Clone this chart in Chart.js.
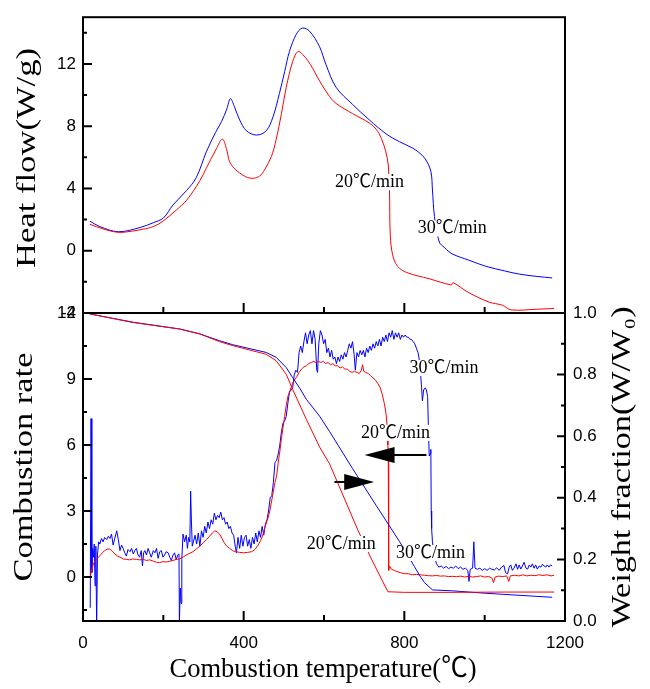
<!DOCTYPE html>
<html>
<head>
<meta charset="utf-8">
<script src="https://cdn.jsdelivr.net/npm/chart.js@4.4.1/dist/chart.umd.min.js"></script>
<style>
html, body { margin: 0; padding: 0; background: #fff; }
#wrap { position: relative; width: 650px; height: 689px; }
#wrap canvas { position: absolute; left: 0; top: 0; }
</style>
</head>
<body>
<div id="wrap">
<canvas id="rateChart" width="650" height="689"></canvas>
<canvas id="heatChart" width="650" height="689"></canvas>
</div>
<script>
/* AXIS TICKS */
const TEMP_TICKS = [0, 400, 800, 1200];
const TEMP_MINOR = [200, 600, 1000];
const HEAT_TICKS = [-4, 0, 4, 8, 12];
const HEAT_MINOR = [-2, 2, 6, 10, 14];
const RATE_TICKS = [0, 3, 6, 9, 12];
const RATE_MINOR = [-1.5, 1.5, 4.5, 7.5, 10.5];
const WEIGHT_TICKS = [0, 0.2, 0.4, 0.6, 0.8, 1.0];
const WEIGHT_MINOR = [0.1, 0.3, 0.5, 0.7, 0.9];

/* HEAT FLOW (W/g) */
const heatT20 = [17, 50, 88, 120, 149, 175, 199, 233, 258, 291, 307, 332, 347, 357, 365, 378, 390, 405, 423, 440, 452, 469, 481, 494, 506, 522, 535, 547, 560, 572, 589, 614, 630, 671, 713, 730, 743, 754, 760, 763, 765, 771, 783, 806, 862, 917, 921, 961, 1011, 1044, 1066, 1128, 1173];
const heatV20 = [1.70, 1.4, 1.18, 1.25, 1.38, 1.55, 1.9, 2.63, 3.24, 4.5, 5.3, 6.55, 7.17, 6.56, 5.72, 5.25, 5.0, 4.75, 4.65, 4.8, 5.2, 6.05, 7.15, 8.8, 10.5, 12.15, 12.8, 12.6, 12.2, 11.7, 10.9, 9.9, 9.46, 8.81, 8.2, 7.8, 7.2, 6.35, 5.5, 3.9, 1.0, -0.27, -1.0, -1.4, -1.8, -2.2, -2.05, -2.7, -3.3, -3.5, -3.8, -3.76, -3.71];

const heatT30 = [17, 42, 88, 142, 175, 200, 224, 258, 282, 307, 330, 345, 358, 367, 377, 390, 407, 432, 456, 473, 489, 502, 514, 531, 546, 564, 589, 605, 630, 671, 713, 755, 788, 820, 837, 852, 866, 870, 875, 887, 900, 919, 960, 1003, 1050, 1086, 1130, 1168];
const heatV30 = [1.9, 1.55, 1.22, 1.49, 1.8, 2.1, 2.94, 3.87, 4.7, 6.35, 7.6, 8.3, 9.1, 9.77, 9.25, 8.4, 7.7, 7.43, 7.7, 8.6, 10.1, 11.5, 12.8, 13.9, 14.3, 14.1, 13.1, 11.95, 10.5, 9.4, 8.4, 7.5, 7.0, 6.6, 6.3, 5.9, 5.1, 3.9, 2.2, 0.56, 0.2, -0.2, -0.6, -1.0, -1.3, -1.5, -1.65, -1.75];

/* COMBUSTION RATE */
const rateT20 = [18, 22, 26, 30, 36, 42, 48, 54, 60, 66, 72, 79, 86, 92, 100, 108, 116, 124, 133, 141, 150, 158, 166, 175, 183, 191, 199, 208, 216, 224, 232, 241, 249, 257, 266, 274, 282, 291, 299, 307, 315, 322, 328, 334, 340, 346, 352, 358, 365, 372, 380, 390, 400, 410, 420, 428, 436, 442, 447, 452, 457, 461, 465, 470, 474, 478, 482, 486, 490, 494, 498, 502, 506, 510, 514, 518, 522, 526, 532, 538, 544, 550, 556, 562, 568, 574, 580, 586, 592, 598, 604, 610, 616, 622, 628, 634, 640, 646, 652, 658, 664, 670, 676, 682, 688, 693, 696, 699, 704, 710, 716, 722, 728, 734, 740, 745, 750, 754, 757, 759, 760, 761, 763, 768, 775, 782, 790, 800, 810, 820, 830, 840, 850, 860, 870, 880, 890, 900, 910, 920, 930, 940, 950, 960, 970, 980, 990, 1000, 1010, 1018, 1022, 1026, 1035, 1045, 1055, 1060, 1064, 1075, 1085, 1095, 1105, 1115, 1125, 1135, 1145, 1155, 1165, 1173];
const rateV20 = [0.0, 0.35, 0.6, 0.75, 0.85, 0.97, 1.1, 1.2, 1.27, 1.27, 1.2, 1.05, 0.95, 0.9, 0.82, 0.8, 0.78, 0.82, 0.8, 0.78, 0.8, 0.75, 0.78, 0.72, 0.67, 0.65, 0.7, 0.68, 0.72, 0.75, 0.8, 0.82, 0.9, 1.0, 1.08, 1.15, 1.27, 1.4, 1.55, 1.7, 1.85, 2.0, 2.1, 2.05, 1.95, 1.75, 1.55, 1.4, 1.3, 1.2, 1.15, 1.12, 1.1, 1.12, 1.15, 1.25, 1.45, 1.65, 1.86, 2.2, 2.5, 2.7, 3.0, 3.5, 3.9, 4.3, 4.6, 5.2, 5.7, 6.3, 6.8, 7.3, 7.8, 8.2, 8.4, 8.6, 8.8, 8.95, 9.1, 9.3, 9.45, 9.55, 9.6, 9.7, 9.75, 9.8, 9.75, 9.8, 9.75, 9.8, 9.7, 9.75, 9.65, 9.7, 9.6, 9.6, 9.5, 9.55, 9.45, 9.45, 9.35, 9.3, 9.35, 9.3, 9.25, 9.4, 9.65, 9.35, 9.3, 9.25, 9.15, 9.05, 8.95, 8.8, 8.6, 8.3, 7.9, 7.5, 6.9, 6.0, 5.5, 0.3, 0.5, 0.35, 0.3, 0.25, 0.2, 0.15, 0.15, 0.1, 0.12, 0.1, 0.08, 0.06, 0.05, 0.07, 0.04, 0.05, 0.02, 0.03, 0.01, 0.04, 0.0, 0.03, 0.0, 0.02, 0.05, 0.0, 0.02, -0.05, -0.25, 0.0, 0.04, 0.02, 0.05, -0.2, 0.05, 0.08, 0.05, 0.1, 0.05, 0.08, 0.06, 0.1, 0.07, 0.1, 0.05, 0.08];

const rateT30 = [18, 20, 22, 24, 26, 28, 30, 32, 34, 36, 39, 42, 46, 50, 54, 59, 63, 67, 71, 75, 79, 84, 88, 92, 96, 100, 104, 108, 112, 117, 121, 125, 129, 133, 137, 141, 145, 148, 151, 154, 158, 162, 166, 170, 175, 179, 183, 187, 191, 195, 199, 203, 207, 212, 216, 220, 224, 228, 232, 236, 239, 240, 242, 244, 246, 249, 253, 257, 260, 263, 266, 268, 270, 272, 275, 279, 283, 287, 291, 295, 299, 303, 307, 311, 315, 319, 323, 327, 331, 335, 339, 343, 347, 351, 355, 359, 363, 367, 371, 375, 379, 382, 386, 390, 394, 398, 402, 406, 410, 414, 418, 422, 426, 430, 434, 438, 442, 446, 450, 454, 458, 462, 466, 470, 474, 478, 482, 486, 490, 494, 498, 502, 506, 510, 514, 518, 522, 526, 530, 534, 538, 542, 546, 550, 554, 558, 562, 566, 570, 574, 578, 582, 584, 587, 591, 595, 599, 603, 607, 611, 615, 619, 623, 627, 631, 635, 639, 643, 647, 651, 655, 659, 663, 667, 671, 675, 678, 682, 686, 690, 694, 698, 702, 706, 710, 714, 718, 722, 726, 730, 734, 738, 742, 746, 750, 754, 758, 762, 766, 770, 774, 778, 782, 786, 790, 794, 798, 802, 806, 810, 814, 818, 822, 826, 830, 834, 838, 841, 843, 845, 848, 852, 855, 858, 860, 862, 864, 866, 867, 868, 870, 874, 880, 886, 892, 898, 904, 910, 916, 922, 928, 934, 940, 946, 952, 958, 961, 964, 970, 973, 976, 982, 988, 994, 1000, 1006, 1012, 1018, 1024, 1030, 1036, 1042, 1048, 1052, 1057, 1061, 1065, 1069, 1073, 1078, 1082, 1086, 1090, 1094, 1098, 1103, 1107, 1111, 1115, 1119, 1123, 1127, 1131, 1136, 1140, 1144, 1148, 1152, 1156, 1160, 1164, 1168];
const rateV30 = [-1.4, 7.2, 0.2, 1.3, 0.9, 1.5, -0.4, 1.4, -2.3, 1.0, 1.6, 1.5, 1.75, 1.6, 1.8, 1.7, 1.85, 1.75, 1.95, 1.45, 1.75, 2.1, 1.7, 1.2, 1.45, 1.3, 1.1, 0.95, 1.25, 1.15, 1.3, 1.05, 1.2, 1.3, 1.0, 0.9, 1.2, 0.5, 1.1, 1.2, 1.0, 1.3, 1.1, 0.9, 1.2, 1.1, 1.3, 0.85, 1.15, 1.2, 0.9, 1.0, 1.15, 1.1, 0.9, 0.75, 1.0, 1.1, 0.8, 1.0, 1.05, -2.2, -0.5, -1.2, 0.8, 1.95, 1.6, 1.9, 1.3, 1.8, 1.6, 3.9, 2.5, 1.4, 1.6, 1.9, 1.5, 2.0, 1.4, 2.1, 1.8, 2.3, 2.0, 2.5, 2.2, 2.6, 2.4, 2.9, 2.6, 2.8, 2.7, 2.95, 2.6, 2.7, 2.4, 2.5, 2.2, 2.3, 2.0, 1.9, 1.4, 1.1, 1.8, 1.3, 1.9, 1.4, 1.8, 1.9, 1.4, 1.7, 1.3, 1.8, 1.5, 2.0, 1.6, 2.1, 1.8, 2.3, 1.9, 2.4, 2.6, 3.0, 3.6, 3.7, 4.3, 5.2, 5.3, 5.6, 6.0, 6.6, 7.0, 7.1, 7.3, 7.9, 8.4, 8.5, 8.6, 9.2, 9.4, 9.3, 10.2, 10.5, 10.2, 10.7, 11.1, 10.6, 11.0, 11.2, 10.6, 11.2, 10.8, 9.4, 9.3, 10.6, 11.2, 11.0, 10.6, 10.8, 10.2, 10.4, 10.0, 10.3, 9.9, 10.0, 9.7, 10.0, 9.8, 10.1, 9.9, 10.2, 10.0, 10.3, 10.6, 10.4, 10.7, 10.1, 9.4, 10.2, 10.0, 10.3, 10.1, 10.3, 10.0, 10.4, 10.2, 10.5, 10.3, 10.6, 10.4, 10.7, 10.5, 10.8, 10.5, 10.9, 10.7, 11.0, 10.7, 11.1, 10.9, 11.2, 10.8, 11.1, 10.9, 11.1, 10.8, 11.0, 10.9, 11.0, 10.9, 10.9, 10.8, 10.8, 10.7, 10.6, 10.4, 10.2, 9.8, 9.1, 8.6, 8.0, 8.5, 8.6, 8.5, 8.2, 6.7, 5.5, 5.6, 5.8, 3.0, 2.2, 1.6, 1.0, 0.6, 0.45, 0.5, 0.4, 0.48, 0.38, 0.45, 0.4, 0.5, 0.38, 0.45, 0.35, 0.4, 0.3, -0.2, 0.35, 0.4, 1.6, 0.4, 0.35, 0.4, 0.3, 0.38, 0.3, 0.4, 0.35, 0.32, 0.42, 0.3, 0.45, 0.52, 0.2, 0.14, 0.45, 0.55, 0.3, 0.4, 0.6, 0.35, 0.55, 0.36, 0.5, 0.67, 0.4, 0.36, 0.55, 0.45, 0.6, 0.4, 0.55, 0.36, 0.5, 0.45, 0.58, 0.5, 0.45, 0.55, 0.45, 0.55, 0.5];

/* WEIGHT FRACTION (W/Wo) */
const weightT20 = [17, 125, 241, 291, 340, 373, 456, 481, 506, 522, 556, 589, 614, 684, 717, 759, 800, 919, 1050, 1173];
const weightV20 = [0.997, 0.969, 0.948, 0.932, 0.907, 0.894, 0.866, 0.845, 0.801, 0.752, 0.655, 0.565, 0.51, 0.296, 0.204, 0.095, 0.093, 0.093, 0.094, 0.094];

const weightT30 = [17, 125, 241, 291, 340, 373, 456, 481, 506, 522, 540, 556, 589, 614, 671, 730, 788, 825, 837, 850, 870, 919, 1003, 1168];
const weightV30 = [0.997, 0.97, 0.948, 0.932, 0.91, 0.897, 0.872, 0.856, 0.823, 0.79, 0.755, 0.72, 0.665, 0.615, 0.495, 0.375, 0.258, 0.177, 0.15, 0.125, 0.101, 0.098, 0.09, 0.077];

/* HELPERS */
const el = (id) => document.getElementById(id);
const pts = (xs, ys) => xs.map((x, i) => ({ x: x, y: ys[i] }));

const BLUE = "#0000ff";
const RED = "#ff0000";
const SERIF = "'Liberation Serif', 'Noto Sans CJK SC', serif";
const TICK_FONT = { family: "'Liberation Sans Narrow', 'Liberation Sans', sans-serif", size: 17 };

function series(data, color, axis, smooth) {
  return {
    data: data,
    yAxisID: axis,
    borderColor: color,
    borderWidth: 1,
    pointRadius: 0,
    fill: false,
    tension: smooth ? 0.35 : 0
  };
}

function fixedTicks(values) {
  return (axis) => { axis.ticks = values.map(v => ({ value: v })); };
}

function marks(ctx, scale, values, len, side) {
  const a = scale.chart.chartArea;
  ctx.beginPath();
  values.forEach(v => {
    const p = scale.getPixelForValue(v);
    if (side === "left") { ctx.moveTo(a.left, p); ctx.lineTo(a.left + len, p); }
    if (side === "right") { ctx.moveTo(a.right, p); ctx.lineTo(a.right - len, p); }
    if (side === "bottom") { ctx.moveTo(p, a.bottom); ctx.lineTo(p, a.bottom - len); }
  });
  ctx.stroke();
}

function frame(chart) {
  const ctx = chart.ctx;
  const a = chart.chartArea;
  ctx.save();
  ctx.strokeStyle = "#000";
  ctx.lineWidth = 2;
  ctx.strokeRect(a.left, a.top, a.right - a.left, a.bottom - a.top);
  ctx.restore();
}

function note(ctx, text, x, y) {
  ctx.save();
  ctx.font = "18px " + SERIF;
  const w = ctx.measureText(text).width;
  ctx.fillStyle = "#fff";
  ctx.fillRect(x - w / 2 - 1, y - 8, w + 2, 16);
  ctx.fillStyle = "#000";
  ctx.textAlign = "center";
  ctx.textBaseline = "middle";
  ctx.fillText(text, x, y);
  ctx.restore();
}

function arrow(ctx, x0, x1, y) {
  const dir = Math.sign(x1 - x0);
  ctx.save();
  ctx.strokeStyle = "#000";
  ctx.fillStyle = "#000";
  ctx.lineWidth = 2;
  ctx.beginPath();
  ctx.moveTo(x0, y);
  ctx.lineTo(x1 - dir * 26, y);
  ctx.stroke();
  ctx.beginPath();
  ctx.moveTo(x1, y);
  ctx.lineTo(x1 - dir * 30, y - 8);
  ctx.lineTo(x1 - dir * 30, y + 8);
  ctx.closePath();
  ctx.fill();
  ctx.restore();
}

/* axis title stretched to the length it has in the picture */
function title(ctx, text, cx, cy, len, size, vertical) {
  ctx.save();
  ctx.translate(cx, cy);
  if (vertical) ctx.rotate(-Math.PI / 2);
  ctx.font = size + "px " + SERIF;
  const w = ctx.measureText(text).width;
  ctx.scale(len / w, 1);
  ctx.fillStyle = "#000";
  ctx.textAlign = "center";
  ctx.textBaseline = "middle";
  ctx.fillText(text, 0, 0);
  ctx.restore();
}

/* TOP PANEL: HEAT FLOW */
const heatNotes = [
  { text: "20℃/min", x: 713, y: 4.4 },
  { text: "30℃/min", x: 919, y: 1.43 }
];

const heatDecor = {
  id: "heatDecor",
  afterDatasetsDraw(chart) {
    const ctx = chart.ctx;
    const sx = chart.scales.x, sy = chart.scales.y;
    heatNotes.forEach(n => note(ctx, n.text, sx.getPixelForValue(n.x), sy.getPixelForValue(n.y)));
  },
  afterDraw(chart) {
    const ctx = chart.ctx;
    frame(chart);
    ctx.save();
    ctx.strokeStyle = "#000";
    ctx.lineWidth = 2;
    marks(ctx, chart.scales.y, HEAT_TICKS, 9, "left");
    marks(ctx, chart.scales.y, HEAT_MINOR, 4, "left");
    marks(ctx, chart.scales.x, TEMP_TICKS, 10, "bottom");
    marks(ctx, chart.scales.x, TEMP_MINOR, 6, "bottom");
    ctx.restore();
    title(ctx, "Heat flow(W/g)", 28, 158, 220, 27, true);
  }
};

new Chart(el("heatChart"), {
  type: "line",
  data: {
    datasets: [
      series(pts(heatT20, heatV20), RED, "y", true),
      series(pts(heatT30, heatV30), BLUE, "y", true)
    ]
  },
  options: {
    responsive: false,
    animation: false,
    devicePixelRatio: 1,
    layout: { padding: { left: 0, right: 85, top: 7, bottom: 376 } },
    plugins: { legend: { display: false }, tooltip: { enabled: false } },
    scales: {
      x: { type: "linear", min: 0, max: 1200, display: false },
      y: {
        min: -4, max: 15,
        afterBuildTicks: fixedTicks(HEAT_TICKS),
        afterFit: (s) => { s.width = 83; },
        grid: { display: false, drawTicks: false },
        border: { display: false },
        ticks: { font: TICK_FONT, color: "#000", padding: 7, autoSkip: false }
      }
    }
  },
  plugins: [heatDecor]
});

/* BOTTOM PANEL: COMBUSTION RATE + WEIGHT FRACTION */
const rateNotes = [
  { text: "30℃/min", x: 899, y: 9.5 },
  { text: "20℃/min", x: 778, y: 6.55 },
  { text: "20℃/min", x: 643, y: 1.5 },
  { text: "30℃/min", x: 865, y: 1.09 }
];
const rateArrows = [
  { from: 855, to: 701, y: 5.55 },
  { from: 626, to: 725, y: 4.32 }
];

const rateDecor = {
  id: "rateDecor",
  afterDatasetsDraw(chart) {
    const ctx = chart.ctx;
    const sx = chart.scales.x, sy = chart.scales.y;
    rateNotes.forEach(n => note(ctx, n.text, sx.getPixelForValue(n.x), sy.getPixelForValue(n.y)));
    rateArrows.forEach(r => arrow(ctx, sx.getPixelForValue(r.from), sx.getPixelForValue(r.to), sy.getPixelForValue(r.y)));
  },
  afterDraw(chart) {
    const ctx = chart.ctx;
    frame(chart);
    ctx.save();
    ctx.strokeStyle = "#000";
    ctx.lineWidth = 2;
    marks(ctx, chart.scales.y, RATE_TICKS, 9, "left");
    marks(ctx, chart.scales.y, RATE_MINOR, 4, "left");
    marks(ctx, chart.scales.y2, WEIGHT_TICKS, 8, "right");
    marks(ctx, chart.scales.y2, WEIGHT_MINOR, 4, "right");
    marks(ctx, chart.scales.x, TEMP_TICKS, 10, "bottom");
    marks(ctx, chart.scales.x, TEMP_MINOR, 6, "bottom");
    ctx.restore();
    title(ctx, "Combustion rate", 25, 467, 229, 27, true);
    title(ctx, "Weight fraction(W/W₀)", 623, 467, 321, 27, true);
    title(ctx, "Combustion temperature(℃)", 323, 670, 307, 28, false);
  }
};

new Chart(el("rateChart"), {
  type: "line",
  data: {
    datasets: [
      series(pts(weightT20, weightV20), RED, "y2", false),
      series(pts(weightT30, weightV30), BLUE, "y2", false),
      series(pts(rateT20, rateV20), RED, "y", false),
      series(pts(rateT30, rateV30), BLUE, "y", false)
    ]
  },
  options: {
    responsive: false,
    animation: false,
    devicePixelRatio: 1,
    layout: { padding: { left: 0, right: 0, top: 313, bottom: 0 } },
    plugins: { legend: { display: false }, tooltip: { enabled: false } },
    scales: {
      x: {
        type: "linear", min: 0, max: 1200,
        afterBuildTicks: fixedTicks(TEMP_TICKS),
        afterFit: (s) => { s.height = 68; },
        grid: { display: false, drawTicks: false },
        border: { display: false },
        ticks: { font: TICK_FONT, color: "#000", padding: 12, autoSkip: false, maxRotation: 0, callback: (v) => String(v) }
      },
      y: {
        position: "left",
        min: -2, max: 12,
        afterBuildTicks: fixedTicks(RATE_TICKS),
        afterFit: (s) => { s.width = 83; },
        grid: { display: false, drawTicks: false },
        border: { display: false },
        ticks: { font: TICK_FONT, color: "#000", padding: 7, autoSkip: false }
      },
      y2: {
        position: "right",
        min: 0, max: 1,
        afterBuildTicks: fixedTicks(WEIGHT_TICKS),
        afterFit: (s) => { s.width = 85; },
        grid: { display: false, drawTicks: false },
        border: { display: false },
        ticks: { font: TICK_FONT, color: "#000", padding: 8, autoSkip: false, callback: (v) => v.toFixed(1) }
      }
    }
  },
  plugins: [rateDecor]
});
</script>
</body>
</html>
